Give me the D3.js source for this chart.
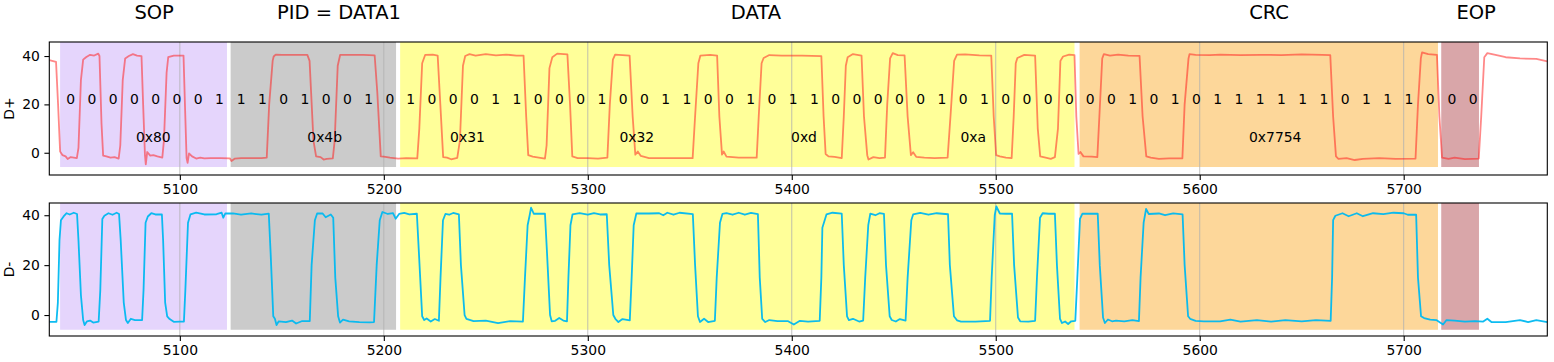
<!DOCTYPE html>
<meta charset="utf-8">
<style>
 body { margin: 0; background: #fff; }
 text { font-family: "DejaVu Sans", sans-serif; }
</style>
<body>
<svg></svg>
<script src="https://cdn.jsdelivr.net/npm/d3@7"></script>
<script>

// packet fields (shaded spans, x in samples)
var fieldNames  = ["SOP", "PID = DATA1", "DATA", "CRC", "EOP"];
var fieldStart  = [5041.3, 5124.9, 5208.0, 5541.1, 5718.4];
var fieldEnd    = [5123.1, 5206.0, 5538.6, 5716.8, 5736.9];
var fieldColors = ["#e5d5fc", "#cbcbcb", "#ffff99", "#fdd79a", "#d9a6a9"];
var fieldTitleX = [5087.4, 5178, 5382.4, 5634, 5735.5];
var fieldBits   = ["00000001", "11010010",
                   "10001100010011001011000001010000",
                   "00101011111101110", "00"];
var bitWidth = 10.417;

// decoded bytes
var byteLabels = ["0x80", "0x4b", "0x31", "0x32", "0xd", "0xa", "0x7754"];
var byteLabelX = [5087, 5171, 5241, 5324, 5406, 5489, 5637];

var xTicks = [5100, 5200, 5300, 5400, 5500, 5600, 5700];
var yTicks = [0, 20, 40];

// D+ trace, [sample, value]
var dPlus = [[5036,38.3],[5039.3,37.6],[5040.3,20],[5041.3,0.5],[5042.5,-1.0],[5044,-1.5],[5045,-2.6],[5046.5,-1.8],[5048,-2.0],[5049.5,-2.2],
 [5050.3,2],[5051.5,30],[5052.6,38.5],[5054,39.5],[5056,40.5],[5058,40.2],[5060,41],[5060.6,40],[5061.6,12],[5062.4,-1.2],[5064,-1.5],[5066,-2],
 [5068,-1.8],[5070,-2.4],[5070.8,3],[5072,30],[5073.2,39],[5075,40],[5077,40.8],[5079,40.2],[5081.2,40],[5082,20],[5082.9,-1.0],[5083.3,-4.8],
 [5084,0.3],[5085.5,-1.2],[5087,-1.0],[5089,-1.5],[5091.4,-2.0],[5092.2,5],[5093.5,33],[5094.3,39.5],[5097,40.2],[5101.8,40.2],[5102.5,20],
 [5103.3,-2.2],[5103.8,-4.2],[5104.5,-0.3],[5106,-1.5],[5108,-2.4],[5110,-2.0],[5112,-2.3],[5115,-2.2],[5120,-2.2],[5124.5,-2.3],[5125.3,-3.4],
 [5127,-2.4],[5130,-2.2],[5140,-2.2],[5142.6,-2.0],[5143.8,20],[5145.5,38],[5146,39.8],[5147,40.6],[5150,40.5],[5160,40.5],[5162.5,40.5],
 [5163.6,38],[5165.5,5],[5166.8,-1.5],[5169,-1.8],[5170.5,-2.8],[5172,-2.5],[5175,-2.3],[5175.9,5],[5177.4,36],[5178.6,40.5],[5182,40.5],
 [5190,40.5],[5195.5,40.3],[5196.8,25],[5198.5,-1.5],[5200,-1.6],[5203,-2.0],[5207,-2.4],[5211,-2.2],[5216.4,-2.3],[5217.4,10],[5218.8,37],
 [5220.3,40.5],[5224,40.6],[5226.4,40.2],[5227.7,20],[5229.1,-1.8],[5231,-2.0],[5233,-2.7],[5236,-2.1],[5237.3,5],[5238.8,36],[5239.9,40],
 [5242,40.8],[5245,40.2],[5250,40.8],[5255,40.3],[5260,40.6],[5265,40.2],[5268.5,40.2],[5269.8,15],[5270.8,-1.0],[5273,-1.6],[5276,-2.0],
 [5279,-2.4],[5279.8,3],[5281.2,35],[5282.6,39.5],[5285,41.0],[5290,40.7],[5291.3,20],[5292.4,-1.5],[5295,-2.2],[5300,-2.2],[5305,-2.4],
 [5309.6,-2.0],[5310.8,20],[5312.3,38.5],[5313.4,40.6],[5317,40.4],[5320.5,40.2],[5322,15],[5323.3,-0.8],[5324.5,0.5],[5326,-1.3],[5330,-2.2],
 [5340,-2.2],[5351.4,-2.2],[5352.6,15],[5354.2,37],[5355.2,40.2],[5360,40.5],[5363.4,40.2],[5364.5,15],[5365.8,-0.8],[5366.6,0.5],[5368,-1.6],
 [5374,-2.0],[5382.8,-2.0],[5383.8,15],[5385.2,37],[5386.2,39.2],[5389,40.4],[5395,40.2],[5405,40.2],[5414.5,40.0],[5415.6,15],[5416.6,-0.5],
 [5418,-1.5],[5421,-1.7],[5424.5,-2.2],[5425.5,15],[5426.5,36],[5427.4,39.5],[5430,40.8],[5434.2,40.2],[5435.4,15],[5437,-1.0],[5437.6,-2.8],
 [5440,-1.8],[5443,-2.2],[5445.7,-2.0],[5446.8,20],[5448.2,39],[5449.5,41.2],[5452,40.4],[5455.3,40.3],[5456.8,15],[5458.4,-1.0],[5459.5,0.2],
 [5461,-1.7],[5465,-2.0],[5470,-2.2],[5476.4,-2.0],[5477.8,15],[5479.6,38],[5481,40.6],[5485,40.7],[5492,40.3],[5497.8,40.2],[5499,15],
 [5500.2,-1.0],[5502,-1.5],[5505,-2.0],[5507.8,-2.2],[5508.8,15],[5509.8,37],[5510.6,39.2],[5514,40.5],[5519.3,40.2],[5520.6,10],[5521.8,-1.5],
 [5525,-2.1],[5527,-2.5],[5529,-1.8],[5530.5,10],[5531.7,38],[5533,39.8],[5536,40.6],[5538.6,40.4],[5539.5,15],[5540.6,-0.5],[5541.5,0.3],
 [5543,-1.5],[5547,-1.6],[5549.8,-1.8],[5550.8,15],[5552.2,39],[5553,40.8],[5556,40.2],[5560,40.6],[5565,40.2],[5570.5,40.1],[5572,15],
 [5573.8,-1.5],[5576,-2.0],[5580,-2.5],[5585,-2.3],[5591.5,-2.3],[5592.6,20],[5594.5,39],[5595,40.8],[5598,40.5],[5605,40.4],[5610,40.6],
 [5620,40.4],[5630,40.5],[5640,40.4],[5650,40.7],[5660,40.5],[5664,40.4],[5665.4,15],[5666.8,-1.5],[5668,-2.5],[5672,-2.2],[5676,-3],
 [5680,-2.5],[5688,-2.2],[5696,-2.5],[5705.8,-2.4],[5707,20],[5708.4,39],[5709,41.5],[5712,40.8],[5716.3,40.5],[5717.5,15],[5718.8,-2.0],
 [5722,-2.5],[5725,-2.0],[5730,-2.6],[5736.8,-2.4],[5738,15],[5739.5,39.5],[5741,41.2],[5745,40.5],[5750,39.5],[5757,39.0],[5765,38.8],[5770.4,37.8]];

// D- trace, [sample, value]
var dMinus = [[5036,-2.7],[5039.5,-2.7],[5040.2,5],[5041.0,30],[5041.7,38],[5043,39.5],[5044.5,40.8],[5046,40.3],[5048,41],[5049.6,40.5],
 [5050.3,30],[5051.5,8],[5052.6,-2],[5053.3,-4],[5054.5,-2.5],[5056,-2.2],[5057.5,-3],[5060.2,-2.6],[5061,10],[5062,38.5],[5063,39.8],[5065,40.8],
 [5067,40.2],[5069,41],[5070.2,40.5],[5071,30],[5072.5,5],[5073.6,-2],[5074.5,-3.2],[5076,-1.5],[5078,-2.0],[5081.5,-2.0],[5082.2,10],[5083.2,37],
 [5084.3,39.5],[5086,40.8],[5088,40.3],[5091.2,40.3],[5091.8,30],[5092.8,5],[5093.8,-0.5],[5095,-1.6],[5097,-2.7],[5100,-2.6],[5102,-2.6],
 [5102.7,10],[5104,37],[5105.2,40.3],[5108,41],[5112,40.3],[5118,40.4],[5120.5,41.0],[5121.3,39.0],[5122.3,40.7],[5126,40.7],[5130,40.2],
 [5135,40.7],[5140,40.2],[5143.6,40.6],[5144.5,25],[5145.8,-0.5],[5146.6,-1.5],[5147.4,-4.0],[5148.5,-2.5],[5152,-2.8],[5155,-2.2],[5157,-3.4],
 [5160,-2.4],[5163.7,-2.4],[5164.6,20],[5166.2,38],[5167.3,40.7],[5170,40.7],[5171.5,39.2],[5174,40.3],[5175.2,39],[5176.2,15],[5177.6,-0.5],
 [5178.5,-3],[5180,-1.8],[5183,-2.5],[5188,-2.8],[5193,-2.9],[5195.2,-2.8],[5196.5,20],[5198,38],[5199.3,41.3],[5202,40.5],[5204.5,40.8],
 [5205.8,38.6],[5207.5,40.5],[5210,40.9],[5212.5,40.3],[5216.2,40.6],[5217.2,25],[5218.8,-0.5],[5219.8,-2.0],[5221,-1.4],[5223,-2.6],[5225,-1.6],
 [5227,-2.3],[5227.8,15],[5229,38],[5230.2,40.5],[5232,40.2],[5234,40.9],[5236.8,40.3],[5237.8,20],[5239.6,0],[5240.5,-1.5],[5244,-2.4],
 [5250,-2.2],[5256,-3.2],[5262,-2.4],[5268.2,-2.6],[5269.2,15],[5270.5,36],[5271.5,40],[5272.2,43],[5273.5,40.6],[5279,40.6],[5280,25],
 [5281.5,0],[5282.3,-2.5],[5284,-2.3],[5286,-1.2],[5288,-2.2],[5289.8,-2.5],[5290.5,15],[5291.5,36],[5292.5,40.3],[5296,40.8],[5300,40.2],
 [5303,40.8],[5306,40.3],[5309.3,40.4],[5310.5,20],[5312.5,0],[5313.5,-1.5],[5315,-2.8],[5317,-1.6],[5320.6,-2.1],[5321.5,15],[5322.5,36],
 [5323.8,40.7],[5330,40.7],[5335,40.8],[5337,40],[5339,41],[5342,40.2],[5345,41],[5351.5,40.4],[5352.6,20],[5354,-0.5],[5355,-2.8],[5357,-1.5],
 [5359,-2.8],[5362.3,-2.3],[5363.2,15],[5364.8,37],[5366,40.5],[5368,40.8],[5371,40.2],[5374,41],[5377,40.2],[5380,40.9],[5383.4,40.4],
 [5384.3,15],[5385.5,-1.5],[5387,-2.8],[5389,-2.0],[5393,-2.4],[5398,-2.4],[5401,-3.8],[5404,-2.3],[5408,-2.6],[5413.7,-2.3],[5414.5,15],
 [5415,35],[5417,40.3],[5420,41],[5424.5,40.6],[5425.5,20],[5427.1,-0.5],[5428,-2.0],[5430,-1.5],[5433,-2.6],[5435,-2.2],[5436,15],[5437.5,36],
 [5438.5,40.6],[5441,40],[5443,40.8],[5445.2,40.5],[5446.2,20],[5448,-0.5],[5449,-2.0],[5451,-2.6],[5453,-1.6],[5455.8,-2.2],[5456.8,15],
 [5458.6,38],[5459.5,40.3],[5463,40.9],[5467,40.2],[5471,40.8],[5476.6,40.4],[5477.5,20],[5479.5,-0.5],[5481,-2.1],[5483,-2.6],[5490,-2.6],
 [5495,-2.4],[5497.2,-2.3],[5498,15],[5499.5,40],[5500.3,43.5],[5502,40.7],[5505,40.6],[5508,40.6],[5509,20],[5510.9,-1.0],[5512,-2.5],
 [5516,-2.6],[5519.3,-2.3],[5520.2,15],[5521.7,39],[5523,40.8],[5526,40.6],[5529,40.6],[5530,20],[5531.5,-1.5],[5532.5,-3.2],[5534,-2.6],
 [5535.5,-3.6],[5537,-2.5],[5539,-2.3],[5540,15],[5541.3,38.5],[5542.5,40.6],[5546,40.6],[5550,40.6],[5551,20],[5552.6,-1.0],[5553.5,-3.2],
 [5555,-1.8],[5557,-2.5],[5559,-2.2],[5563,-2.5],[5567,-2.0],[5570.2,-2.4],[5571,15],[5572.5,37],[5573.7,42.5],[5575,40.5],[5580,40.7],
 [5583,40.0],[5587,40.7],[5591.6,40.3],[5592.6,20],[5594.3,-0.5],[5595.3,-1.5],[5598,-2.3],[5602,-2.5],[5610,-2.5],[5615,-1.8],[5620,-2.6],
 [5628,-2.0],[5635,-2.6],[5642,-2.0],[5650,-2.5],[5657,-2.0],[5664.2,-2.3],[5664.9,15],[5665.4,38],[5666.5,39.8],[5670,40.8],[5673,39.6],
 [5677,40.8],[5680,39.6],[5685,40.8],[5690,40.4],[5695,41],[5700,40.8],[5702,40.2],[5706.1,40.2],[5707,15],[5708.5,-0.5],[5710,-1.2],
 [5713,-1.8],[5716,-2.0],[5719.3,-3.8],[5721,-2.0],[5725,-2.2],[5730,-2.6],[5735,-2.4],[5739,-2.6],[5741,-1.5],[5743,-2.8],[5750,-2.8],
 [5757,-2.0],[5761,-2.8],[5765,-2.0],[5770.4,-2.8]];


// setting up svg
var width = 1554, height = 362;
var left = 49.3, right = 1547.3;
var svg = d3.select("svg")
		.attr("width", width)
		.attr("height", height);

var x = d3.scaleLinear().domain([5036, 5770.4]).range([left, right]);

// one subplot: spans, grid, trace, axes, frame
function drawPanel(top, bottom, yDomain, trace, color, opacity, label, id)
{
	var y = d3.scaleLinear().domain(yDomain).range([bottom, top]);
	var g = svg.append("g");

	g.append("clipPath").attr("id", id)
	 .append("rect")
	 .attr("x", left).attr("y", top)
	 .attr("width", right - left).attr("height", bottom - top);

	var plot = g.append("g").attr("clip-path", "url(#" + id + ")");

	plot.selectAll(".span")
		.data(fieldNames)
		.enter()
		.append("rect")
		.attr("x", function(d, i){ return x(fieldStart[i]); })
		.attr("width", function(d, i){ return x(fieldEnd[i]) - x(fieldStart[i]); })
		.attr("y", y(60))
		.attr("height", y(-5.9) - y(60))
		.attr("fill", function(d, i){ return fieldColors[i]; });

	plot.selectAll(".grid")
		.data(xTicks)
		.enter()
		.append("line")
		.attr("x1", function(d){ return x(d); })
		.attr("x2", function(d){ return x(d); })
		.attr("y1", top).attr("y2", bottom)
		.attr("stroke", "#b0b0b0")
		.attr("stroke-width", 0.8);

	var line = d3.line()
		.x(function(d){ return x(d[0]); })
		.y(function(d){ return y(d[1]); });

	plot.append("path")
		.datum(trace)
		.attr("d", line)
		.attr("fill", "none")
		.attr("stroke", color)
		.attr("stroke-opacity", opacity)
		.attr("stroke-width", 1.8)
		.attr("stroke-linejoin", "round");

	var xAxis = g.append("g")
		.attr("transform", "translate(0," + bottom + ")")
		.call(d3.axisBottom(x).tickValues(xTicks).tickFormat(d3.format("d"))
			.tickSize(4.9).tickPadding(4.5).tickSizeOuter(0));
	var yAxis = g.append("g")
		.attr("transform", "translate(" + left + ",0)")
		.call(d3.axisLeft(y).tickValues(yTicks).tickFormat(d3.format("d"))
			.tickSize(4.9).tickPadding(4.5).tickSizeOuter(0));

	[xAxis, yAxis].forEach(function(a){
		a.select(".domain").remove();
		a.attr("font-family", null).attr("font-size", null);
		a.selectAll("line").attr("stroke", "#000").attr("stroke-width", 1.1);
		a.selectAll("text").attr("fill", "#000").style("font-size", "13.9px");
	});

	g.append("rect")
		.attr("x", left).attr("y", top)
		.attr("width", right - left).attr("height", bottom - top)
		.attr("fill", "none")
		.attr("stroke", "#000")
		.attr("stroke-width", 1.1);

	g.append("text")
		.attr("transform", "translate(13.5," + ((top + bottom) / 2) + ") rotate(-90)")
		.attr("text-anchor", "middle")
		.style("font-size", "13.9px")
		.text(label);

	return y;
}

var yTop = drawPanel(42, 175, [-9.2, 45.8], dPlus, "#ff1a1a", 0.52, "D+", "clipTop");
var yBot = drawPanel(203, 336, [-8.4, 44.9], dMinus, "#00b8f0", 0.95, "D-", "clipBot");

// field titles above the plots
svg.selectAll(".title")
	.data(fieldNames)
	.enter()
	.append("text")
	.attr("x", function(d, i){ return x(fieldTitleX[i]); })
	.attr("y", 18.5)
	.attr("text-anchor", "middle")
	.style("font-size", "19.5px")
	.text(function(d){ return d; });

// bit labels, one per bit cell
var bitLabels = [];
fieldBits.forEach(function(bits, f)
{
	for(var i=0; i<bits.length; i++)
		bitLabels.push({x: fieldStart[f] + (i + 0.5) * bitWidth, b: bits[i]});
});

svg.selectAll(".bit")
	.data(bitLabels)
	.enter()
	.append("text")
	.attr("x", function(d){ return x(d.x); })
	.attr("y", yTop(20))
	.attr("text-anchor", "middle")
	.style("font-size", "13.9px")
	.text(function(d){ return d.b; });

// byte values
svg.selectAll(".byte")
	.data(byteLabels)
	.enter()
	.append("text")
	.attr("x", function(d, i){ return x(byteLabelX[i]); })
	.attr("y", yTop(4.6))
	.attr("text-anchor", "middle")
	.style("font-size", "13.9px")
	.text(function(d){ return d; });

</script>
</body>
</html>
